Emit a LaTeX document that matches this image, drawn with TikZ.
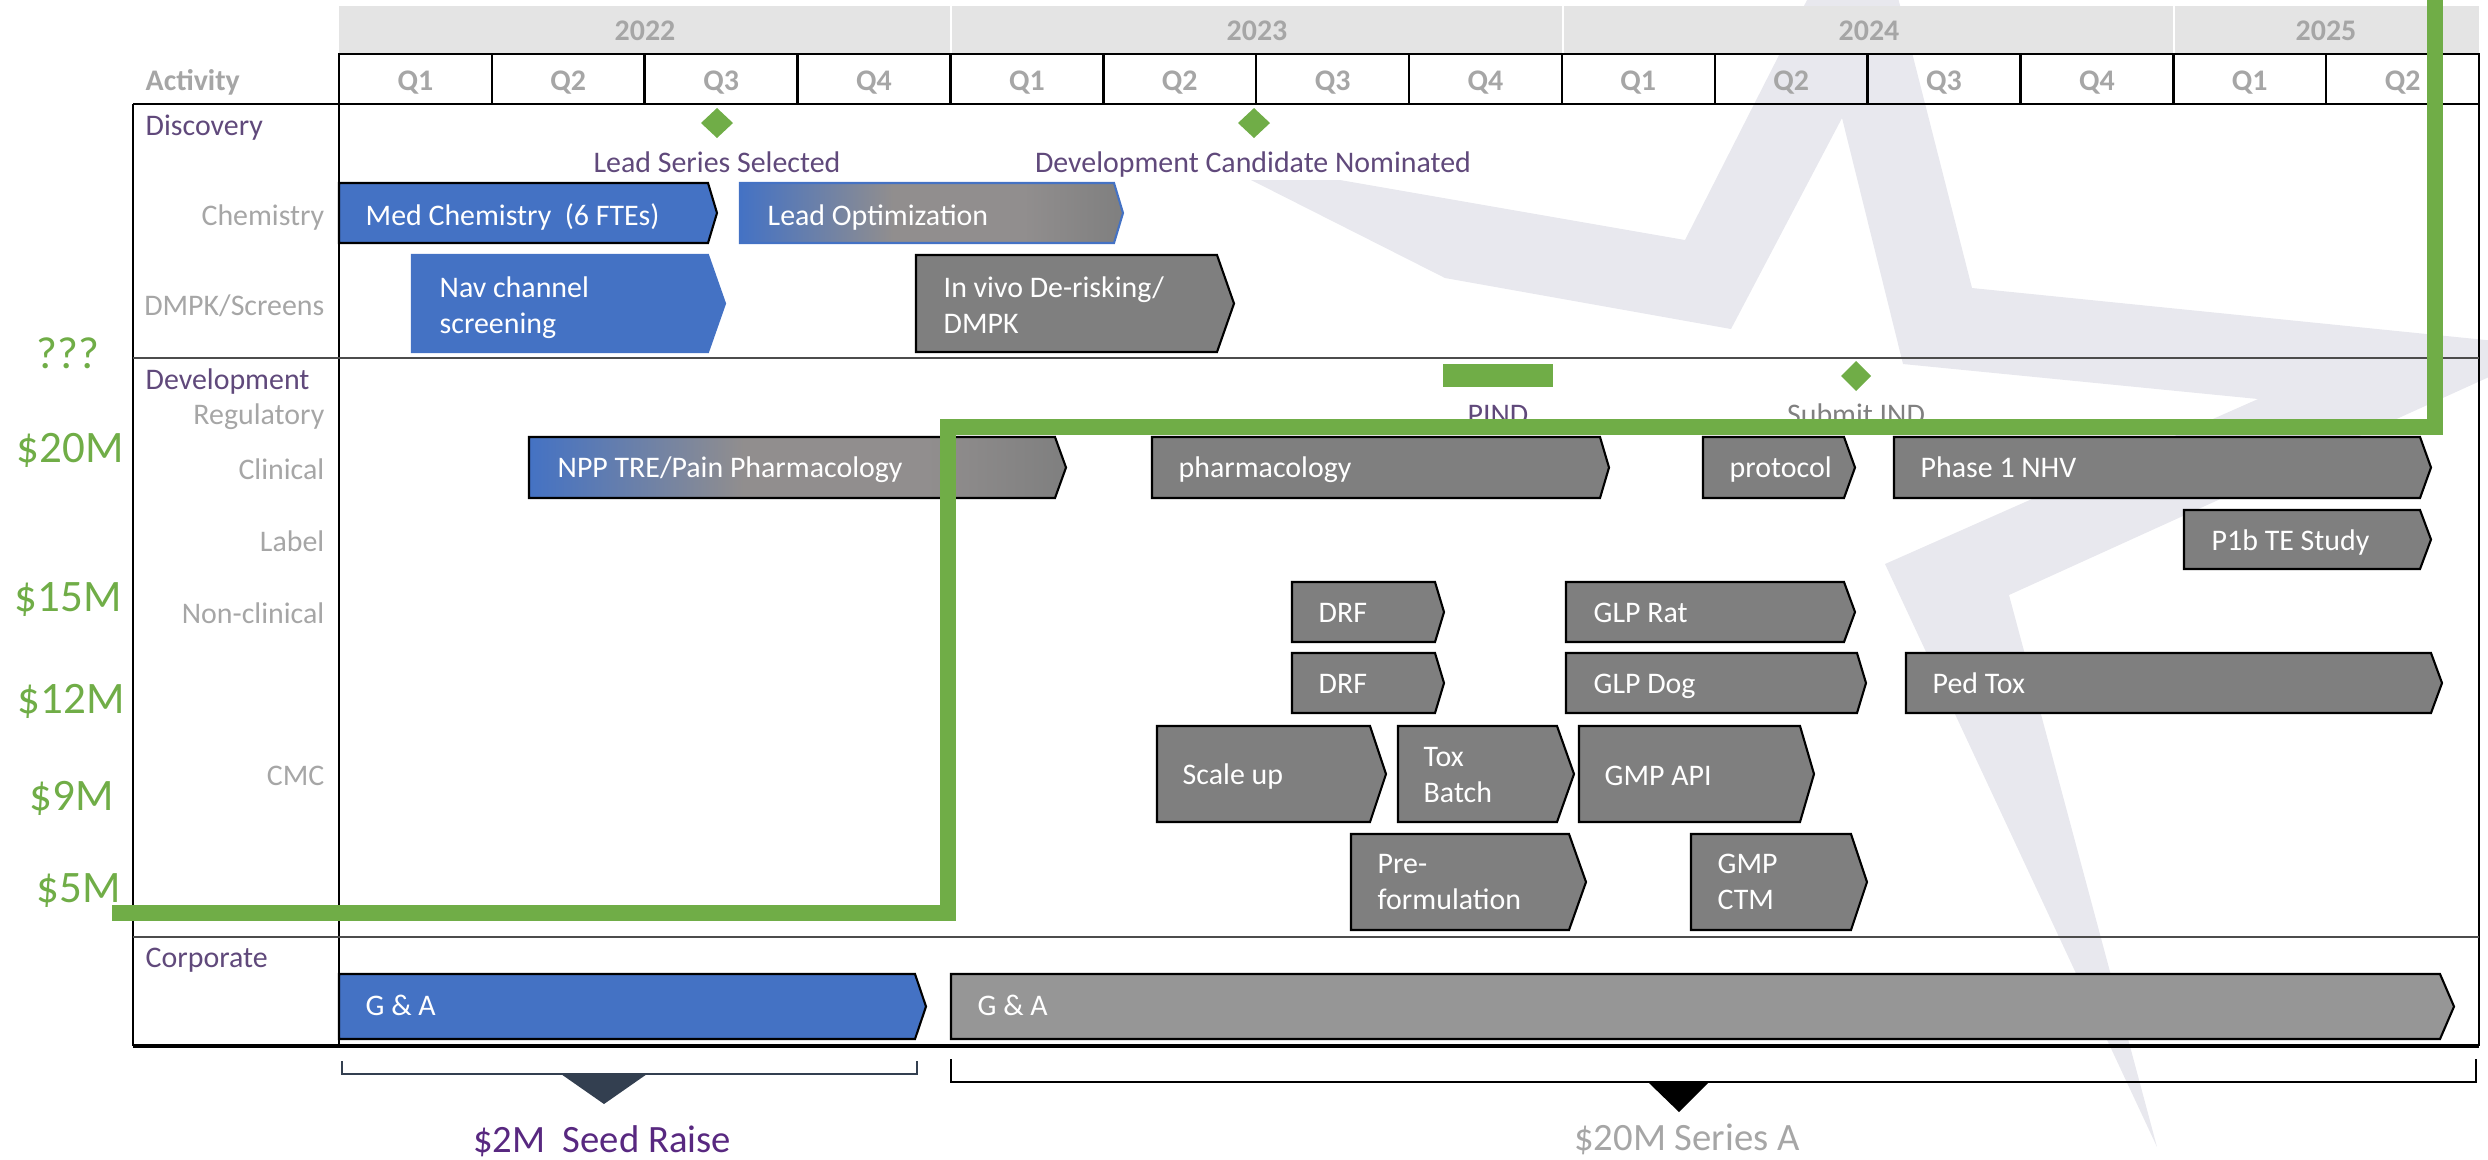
\documentclass[tikz,border=0pt]{standalone}
\usepackage{fontspec}
\setmainfont{Carlito}
\definecolor{barblue}{RGB}{68,114,196}
\definecolor{bargray}{RGB}{127,127,127}
\definecolor{fadegray}{RGB}{145,142,142}
\definecolor{galgray}{RGB}{150,150,150}
\definecolor{mgreen}{RGB}{112,173,71}
\definecolor{lblgray}{RGB}{166,166,166}
\definecolor{ndgray}{RGB}{128,128,128}
\definecolor{secpurple}{RGB}{96,73,123}
\definecolor{seedpurple}{RGB}{88,40,128}
\definecolor{yearband}{RGB}{228,228,228}
\definecolor{starwash}{RGB}{232,232,238}
\definecolor{slate}{RGB}{51,63,80}
\pgfdeclarehorizontalshading{bluefade}{100bp}{color(0bp)=(barblue); color(25bp)=(barblue); color(45bp)=(fadegray); color(62bp)=(fadegray); color(75bp)=(bargray); color(100bp)=(bargray)}
\newcommand{\twolines}[2]{\vtop{\hbox{#1}\hbox{#2}}}

\begin{document}
\begin{tikzpicture}[x=0.01cm, y=0.01cm,
  every node/.style={font=\fontsize{8.5}{10.3}\selectfont},
  bluebar/.style={draw=black, line width=0.6pt, fill=barblue},
  graybar/.style={draw=black, line width=0.6pt, fill=bargray},
  fadebar/.style={draw=black, line width=0.6pt, shade, shading=bluefade},
  bartext/.style={text=white, anchor=base west},
  rowlabel/.style={text=lblgray, anchor=base east},
  seclabel/.style={text=secpurple, anchor=base west},
  headlabel/.style={text=lblgray, anchor=base, font=\fontsize{8.5}{10.3}\selectfont\bfseries},
  money/.style={text=mgreen, anchor=base, font=\fontsize{12.8}{15}\selectfont},
  gem/.style={fill=mgreen}]
\tikzstyle{every node}+=[inner sep=0pt]
\useasboundingbox (0,0) rectangle (2488,-1159);

% watermark star
\fill[starwash] (1340,-180) -- (1685,-240) -- (1868,120) -- (1972,-288) -- (2555,-347) -- (2009,-595) -- (2157,-1147) -- (1885,-564) -- (2258,-399) -- (1903,-364) -- (1842,-118) -- (1731,-329) -- (1445,-278) -- (1251,-180) -- cycle;

% years and quarters
\fill[yearband] (339,-6) rectangle (2479,-53);
\draw[white, line width=0.8pt] (951,-6) -- (951,-53) (1563,-6) -- (1563,-53) (2174,-6) -- (2174,-53);
\node (y2022) [headlabel] at (645,-40) {2022};
\node (y2023) [headlabel] at (1257,-40) {2023};
\node (y2024) [headlabel] at (1869,-40) {2024};
\node (y2025) [headlabel] at (2326,-40) {2025};
\draw[line width=0.7pt] (339,-54) rectangle (2479,-104);
\foreach \k in {1,...,13} \draw[line width=0.7pt] (339+152.86*\k,-54) -- (339+152.86*\k,-104);
\foreach \k in {0,...,13} {\pgfmathtruncatemacro{\qn}{mod(\k,4)+1}
  \node (q\k) [headlabel] at (415.4+152.86*\k,-90) {Q\qn};}
\node (activity) [headlabel, anchor=base west] at (145,-90) {Activity};

% table frame
\draw[line width=0.7pt] (133,-104) -- (2479,-104);
\draw[line width=0.7pt] (133,-104) -- (133,-1046);
\draw[line width=0.7pt] (339,-104) -- (339,-1046);
\draw[line width=0.7pt] (2479,-104) -- (2479,-1046);
\draw[line width=1pt] (133,-1046) -- (2479,-1046);
\draw[line width=0.5pt, black!70] (133,-358) -- (2479,-358);
\draw[line width=0.5pt, black!70] (133,-937) -- (2479,-937);

% row labels
\node (discovery) [seclabel] at (145,-135) {Discovery};
\node (chemistry) [rowlabel] at (325,-225) {Chemistry};
\node (dmpk) [rowlabel] at (325,-315) {DMPK/Screens};
\node (development) [seclabel] at (145,-389) {Development};
\node (regulatory) [rowlabel] at (325,-424) {Regulatory};
\node (clinical) [rowlabel] at (325,-479) {Clinical};
\node (label) [rowlabel] at (325,-551) {Label};
\node (nonclinical) [rowlabel] at (325,-623) {Non-clinical};
\node (cmc) [rowlabel] at (325,-785) {CMC};
\node (corporate) [seclabel] at (145,-967) {Corporate};

% milestones
\fill[gem] (717,-108) -- (733,-123) -- (717,-138) -- (701,-123) -- cycle;
\node (leadsel) [text=secpurple, anchor=base] at (717,-172) {Lead Series Selected};
\fill[gem] (1254,-108) -- (1270,-123) -- (1254,-138) -- (1238,-123) -- cycle;
\node (devcand) [text=secpurple, anchor=base] at (1253,-172) {Development Candidate Nominated};
\fill[gem] (1443,-364) rectangle (1553,-387);
\node (pind) [text=secpurple, anchor=base] at (1498,-424) {PIND};
\fill[gem] (1856,-361) -- (1871,-376) -- (1856,-391) -- (1841,-376) -- cycle;
\node (submitind) [text=ndgray, anchor=base] at (1856,-424) {Submit IND};

% discovery bars
\draw[bluebar] (339,-183) -- (708,-183) -- (717,-213) -- (708,-243) -- (339,-243) -- cycle;
\node (medchem) [bartext] at (365,-225) {Med Chemistry~ (6 FTEs)};
\draw[fadebar, draw=barblue] (740,-183) -- (1114,-183) -- (1123,-213) -- (1114,-243) -- (740,-243) -- cycle;
\node (leadopt) [bartext] at (767,-225) {Lead Optimization};
\draw[bluebar, draw=barblue] (412,-255) -- (708,-255) -- (725,-303.5) -- (708,-352) -- (412,-352) -- cycle;
\node (navscreen) [bartext] at (439,-297) {\twolines{Nav channel}{screening}};
\draw[graybar] (916,-255) -- (1217,-255) -- (1234,-303.5) -- (1217,-352) -- (916,-352) -- cycle;
\node (invivo) [bartext] at (943,-297) {\twolines{In vivo De-risking/}{DMPK}};

% development bars
\draw[fadebar] (529,-437) -- (1055,-437) -- (1066,-467.5) -- (1055,-498) -- (529,-498) -- cycle;
\node (npp) [bartext] at (557,-477) {NPP TRE/Pain Pharmacology};
\draw[graybar] (1152,-437) -- (1600,-437) -- (1609,-467.5) -- (1600,-498) -- (1152,-498) -- cycle;
\node (pharma) [bartext] at (1178,-477) {pharmacology};
\draw[graybar] (1703,-437) -- (1844,-437) -- (1855,-467.5) -- (1844,-498) -- (1703,-498) -- cycle;
\node (protocol) [bartext] at (1729,-477) {protocol};
\draw[graybar] (1894,-437) -- (2420,-437) -- (2431,-467.5) -- (2420,-498) -- (1894,-498) -- cycle;
\node (phaseone) [bartext] at (1920,-477) {Phase 1 NHV};
\draw[graybar] (2184,-510) -- (2420,-510) -- (2431,-539.5) -- (2420,-569) -- (2184,-569) -- cycle;
\node (ponebte) [bartext] at (2211,-550) {P1b TE Study};
\draw[graybar] (1292,-582) -- (1435,-582) -- (1444,-612) -- (1435,-642) -- (1292,-642) -- cycle;
\node (drfa) [bartext] at (1318,-622) {DRF};
\draw[graybar] (1566,-582) -- (1844,-582) -- (1855,-612) -- (1844,-642) -- (1566,-642) -- cycle;
\node (glprat) [bartext] at (1593,-622) {GLP Rat};
\draw[graybar] (1292,-653) -- (1435,-653) -- (1444,-683) -- (1435,-713) -- (1292,-713) -- cycle;
\node (drfb) [bartext] at (1318,-693) {DRF};
\draw[graybar] (1566,-653) -- (1857,-653) -- (1866,-683) -- (1857,-713) -- (1566,-713) -- cycle;
\node (glpdog) [bartext] at (1593,-693) {GLP Dog};
\draw[graybar] (1906,-653) -- (2431,-653) -- (2442,-683) -- (2431,-713) -- (1906,-713) -- cycle;
\node (pedtox) [bartext] at (1932,-693) {Ped Tox};
\draw[graybar] (1157,-726) -- (1370,-726) -- (1386,-774) -- (1370,-822) -- (1157,-822) -- cycle;
\node (scaleup) [bartext] at (1182,-784) {Scale up};
\draw[graybar] (1398,-726) -- (1557,-726) -- (1574,-774) -- (1557,-822) -- (1398,-822) -- cycle;
\node (toxbatch) [bartext] at (1423,-766) {\twolines{Tox}{Batch}};
\draw[graybar] (1579,-726) -- (1800,-726) -- (1814,-774) -- (1800,-822) -- (1579,-822) -- cycle;
\node (gmpapi) [bartext] at (1604,-785) {GMP API};
\draw[graybar] (1351,-834) -- (1569,-834) -- (1586,-882) -- (1569,-930) -- (1351,-930) -- cycle;
\node (preform) [bartext] at (1377,-873) {\twolines{Pre-}{formulation}};
\draw[graybar] (1691,-834) -- (1851,-834) -- (1867,-882) -- (1851,-930) -- (1691,-930) -- cycle;
\node (gmpctm) [bartext] at (1717,-873) {\twolines{GMP}{CTM}};

% corporate bars
\draw[bluebar] (339,-974) -- (915,-974) -- (926,-1006.5) -- (915,-1039) -- (339,-1039) -- cycle;
\node (gaseed) [bartext] at (365,-1015) {G \& A};
\draw[graybar, fill=galgray] (951,-974) -- (2440,-974) -- (2454,-1006.5) -- (2440,-1039) -- (951,-1039) -- cycle;
\node (gaseries) [bartext] at (977,-1015) {G \& A};

% funding line
\draw[mgreen, line width=4.3pt] (112,-913) -- (948,-913) -- (948,-427) -- (2435,-427) -- (2435,20);
\node (mtop) [money] at (68,-368) {???};
\node (mtwenty) [money] at (70,-462) {\$20M};
\node (mfifteen) [money] at (68,-611) {\$15M};
\node (mtwelve) [money] at (71,-713) {\$12M};
\node (mnine) [money] at (72,-810) {\$9M};
\node (mfive) [money] at (79,-902) {\$5M};

% raises
\draw[slate, line width=0.7pt] (342,-1061) -- (342,-1074) -- (917,-1074) -- (917,-1061);
\fill[slate] (561,-1074) -- (647,-1074) -- (604,-1104) -- cycle;
\node (seed) [text=seedpurple, anchor=base, font=\fontsize{11}{13}\selectfont] at (602,-1152) {\$2M~ Seed Raise};
\draw[line width=0.7pt] (951,-1059) -- (951,-1082) -- (2476,-1082) -- (2476,-1059);
\fill (1649,-1083) -- (1708,-1083) -- (1679,-1112) -- cycle;
\node (seriesa) [text=lblgray, anchor=base, font=\fontsize{11}{13}\selectfont] at (1687,-1150) {\$20M Series A};
\end{tikzpicture}
\end{document}
